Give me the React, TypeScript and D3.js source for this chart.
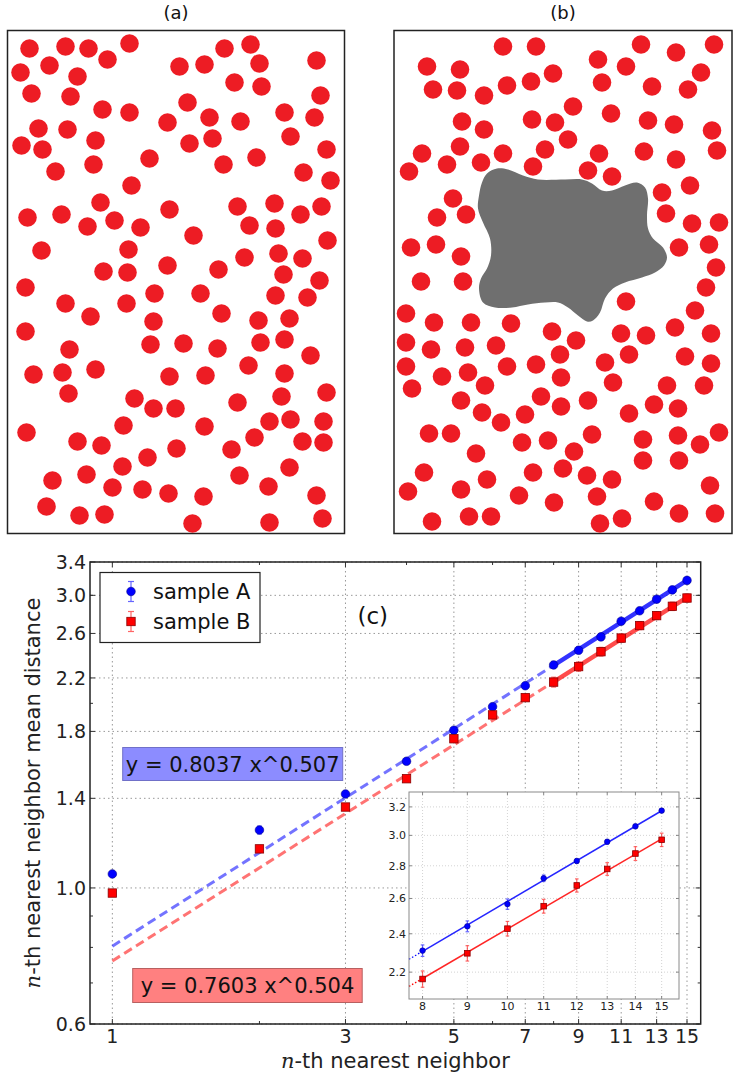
import React from 'react';
import * as d3 from 'd3';

// ---------- panel (a) / (b) particle positions (panel units, origin top-left of box) ----------
const panelACircles: [number, number][] = [
  [22,18],[58,16],[81,18],[122,13],[100,29],[42,35],[13,42],[70,46],[24,63],[63,66],[95,79],[122,82],
  [172,36],[197,34],[217,18],[243,14],[252,33],[227,52],[254,56],[309,30],[313,65],[180,72],[202,87],
  [160,92],[233,91],[277,82],[307,87],[31,98],[60,99],[14,115],[35,119],[88,110],[182,113],[205,108],
  [283,106],[319,119],[142,128],[86,134],[48,141],[216,134],[249,127],[296,142],[323,150],[124,155],
  [93,172],[20,187],[54,184],[80,196],[107,190],[133,197],[162,179],[230,176],[267,173],[293,184],
  [314,176],[242,195],[268,198],[186,205],[320,210],[34,220],[121,219],[237,227],[271,223],[295,228],
  [96,241],[120,242],[160,235],[211,239],[276,244],[312,250],
  [18,257],[58,273],[83,286],[119,273],[147,263],[193,263],[214,283],[268,265],[300,267],[251,290],
  [282,288],[18,301],[146,291],[62,319],[143,314],[176,313],[210,318],[253,312],[277,309],[303,325],
  [26,344],[55,342],[88,339],[162,346],[198,345],[241,335],[277,343],[61,363],[127,368],[146,378],
  [168,378],[230,372],[274,366],[319,362],[19,402],[116,395],[197,396],[262,391],[283,389],[316,391],
  [70,411],[94,415],[169,418],[224,419],[247,407],[295,411],[316,412],[140,427],[115,436],[79,444],
  [45,450],[232,445],[282,437],[105,457],[135,459],[161,463],[196,466],[261,456],[309,465],[39,476],
  [72,485],[97,484],[185,493],[262,492],[315,488],
];

const panelBCircles: [number, number][] = [
  [109,16],[142,16],[247,14],[282,22],[320,14],[33,36],[66,39],[204,29],[232,36],[307,42],[39,59],
  [63,60],[90,65],[113,55],[137,51],[159,43],[208,52],[258,56],[294,59],[179,76],[217,83],[68,91],
  [90,99],[138,89],[161,92],[254,90],[280,94],[318,100],[28,123],[66,116],[174,109],[151,119],
  [109,123],[205,123],[250,121],[323,120],[15,141],[53,134],[87,132],[139,136],[194,140],[218,146],
  [282,129],[296,155],[268,162],[59,168],[43,187],[72,184],[272,183],[298,193],[325,192],[17,217],
  [42,214],[67,226],[285,217],[315,214],[322,237],
  [27,251],[69,251],[312,257],[232,271],[301,280],[12,283],[40,292],[77,292],[117,293],[158,301],
  [182,310],[227,303],[252,305],[281,297],[317,303],[12,312],[37,319],[71,317],[102,315],[166,324],
  [235,324],[211,332],[291,326],[317,333],[12,336],[48,346],[74,342],[113,336],[142,334],[167,347],
  [219,352],[273,355],[310,355],[18,358],[91,355],[67,370],[147,366],[167,376],[194,370],[260,374],
  [284,378],[88,382],[131,384],[107,392],[235,383],[35,403],[57,403],[128,412],[154,410],[198,404],
  [249,409],[284,405],[325,402],[306,414],[82,423],[180,421],[249,430],[285,430],[30,442],[139,442],
  [169,438],[193,445],[218,449],[93,449],[14,461],[67,459],[125,465],[203,466],[316,455],[160,472],
  [260,471],[38,491],[75,486],[97,486],[206,493],[228,488],[285,483],[321,483],
];

const obstacleOutline: [number, number][] = [
  [93,143],[103,138],[114,139],[129,145],[144,149],[171,149],[188,149],[198,153],[208,160],[218,160],
  [231,155],[243,152],[251,157],[254,168],[253,185],[254,198],[259,208],[269,217],[273,227],[270,235],
  [261,242],[248,247],[231,252],[219,258],[211,268],[206,282],[199,290],[193,291],[184,285],[174,277],
  [164,272],[151,272],[134,274],[118,277],[101,277],[89,272],[85,258],[87,248],[93,238],[97,225],
  [96,208],[89,192],[84,178],[85,165],[88,152],
];

// ---------- panel (c) data ----------
const neighborN = [1, 2, 3, 4, 5, 6, 7, 8, 9, 10, 11, 12, 13, 14, 15];
const sampleA = [1.054, 1.243, 1.423, 1.609, 1.808, 1.975, 2.137, 2.31, 2.441, 2.567, 2.722, 2.831, 2.957, 3.062, 3.173];
const sampleB = [0.981, 1.158, 1.355, 1.507, 1.751, 1.915, 2.043, 2.166, 2.296, 2.428, 2.555, 2.678, 2.78, 2.879, 2.97];
const errA = [0.01, 0.018, 0.015, 0.015, 0.015, 0.015, 0.015, 0.03, 0.03, 0.03, 0.02, 0.015, 0.015, 0.015, 0.01];
const errB = [0.01, 0.015, 0.015, 0.015, 0.015, 0.015, 0.015, 0.04, 0.04, 0.04, 0.04, 0.04, 0.04, 0.045, 0.045];
const fitA = { a: 0.8037, b: 0.507 };
const fitB = { a: 0.7603, b: 0.504 };
const fitStartN = 1;
const fitSplitN = 8;
const fitEndN = 15;

const mainYTicks = [0.6, 1.0, 1.4, 1.8, 2.2, 2.6, 3.0, 3.4];
const mainYMinor = [0.7, 0.8, 0.9, 2, 3];
const mainXTicks = [1, 3, 5, 7, 9, 11, 13, 15];
const mainXMinor = [2, 4, 6, 8];
const insetXTicks = [8, 9, 10, 11, 12, 13, 14, 15];
const insetYTicks = [2.2, 2.4, 2.6, 2.8, 3.0, 3.2];

const FONT = '"DejaVu Sans", sans-serif';
const RED = '#ed1c24';

const fitVal = (f: { a: number; b: number }, n: number) => f.a * Math.pow(n, f.b);

function Panel({ circles, left, top, w, h, label, blob }: any) {
  const sx = d3.scaleLinear().domain([0, w]).range([left, left + w]);
  const sy = d3.scaleLinear().domain([0, h]).range([top, top + h]);
  const line = d3.line<[number, number]>().x(d => sx(d[0])).y(d => sy(d[1])).curve(d3.curveCatmullRomClosed.alpha(0.5));
  return (
    <g>
      <text x={left + w / 2} y={19} textAnchor="middle" fontFamily={FONT} fontSize={18} fill="#111">{label}</text>
      <rect x={left} y={top} width={w} height={h} fill="white" stroke="#222" strokeWidth={1.5} />
      {blob && <path d={line(blob) || ''} fill="#6f6f6f" />}
      {circles.map((c: [number, number], i: number) => (
        <circle key={i} cx={sx(c[0])} cy={sy(c[1])} r={9.3} fill={RED} />
      ))}
    </g>
  );
}

export default function App() {
  // main axes
  const X0 = 90, X1 = 700.7, Y0 = 562, Y1 = 1024;
  const x = d3.scaleLog().domain([0.9, 16]).range([X0, X1]);
  const y = d3.scaleLog().domain([0.6, 3.4]).range([Y1, Y0]);
  // inset axes
  const IX0 = 409, IX1 = 679, IY0 = 792, IY1 = 999;
  const ix = d3.scaleLog().domain([7.72, 15.7]).range([IX0, IX1]);
  const iy = d3.scaleLog().domain([2.07, 3.31]).range([IY1, IY0]);

  const series = [
    { vals: sampleA, err: errA, fit: fitA, color: '#0000ff', dash: 'rgba(40,40,255,0.65)', solid: 'rgba(0,0,255,0.8)', edge: '#00008b', marker: 'circle' },
    { vals: sampleB, err: errB, fit: fitB, color: '#ff0000', dash: 'rgba(255,40,40,0.65)', solid: 'rgba(255,0,0,0.7)', edge: '#8b0000', marker: 'square' },
  ];

  const marker = (kind: string, cx: number, cy: number, size: number, fill: string, edge: string, key: any) =>
    kind === 'circle'
      ? <circle key={key} cx={cx} cy={cy} r={size / 2} fill={fill} stroke={edge} strokeWidth={0.6} />
      : <rect key={key} x={cx - size / 2} y={cy - size / 2} width={size} height={size} fill={fill} stroke={edge} strokeWidth={0.8} />;

  const errBar = (cx: number, ylo: number, yhi: number, color: string, cap: number, key: any) => (
    <g key={key} stroke={color} strokeWidth={1.2} opacity={0.6}>
      <line x1={cx} x2={cx} y1={ylo} y2={yhi} />
      <line x1={cx - cap} x2={cx + cap} y1={ylo} y2={ylo} />
      <line x1={cx - cap} x2={cx + cap} y1={yhi} y2={yhi} />
    </g>
  );

  return (
    <svg width={738} height={1075} style={{ position: 'absolute', left: 0, top: 0, background: 'white' }}>
      <Panel circles={panelACircles} left={7.5} top={30.5} w={337} h={503} label="(a)" />
      <Panel circles={panelBCircles} left={394} top={30.5} w={338} h={503} label="(b)" blob={obstacleOutline} />

      {/* main plot (c) */}
      <rect x={X0} y={Y0} width={X1 - X0} height={Y1 - Y0} fill="white" />
      <g stroke="#999" strokeWidth={1} strokeDasharray="1.5,3">
        {mainXTicks.map(t => <line key={'gx' + t} x1={x(t)} x2={x(t)} y1={Y0} y2={Y1} />)}
        {mainYTicks.map(t => <line key={'gy' + t} x1={X0} x2={X1} y1={y(t)} y2={y(t)} />)}
      </g>
      {/* ticks */}
      <g stroke="#333" strokeWidth={1}>
        {mainXTicks.map(t => <g key={'tx' + t}><line x1={x(t)} x2={x(t)} y1={Y1} y2={Y1 - 5} /><line x1={x(t)} x2={x(t)} y1={Y0} y2={Y0 + 5} /></g>)}
        {mainXMinor.map(t => <g key={'mx' + t}><line x1={x(t)} x2={x(t)} y1={Y1} y2={Y1 - 3} /><line x1={x(t)} x2={x(t)} y1={Y0} y2={Y0 + 3} /></g>)}
        {mainYTicks.map(t => <g key={'ty' + t}><line x1={X0} x2={X0 + 5} y1={y(t)} y2={y(t)} /><line x1={X1} x2={X1 - 5} y1={y(t)} y2={y(t)} /></g>)}
        {mainYMinor.map(t => <g key={'my' + t}><line x1={X0} x2={X0 + 3} y1={y(t)} y2={y(t)} /><line x1={X1} x2={X1 - 3} y1={y(t)} y2={y(t)} /></g>)}
      </g>
      {/* fit lines */}
      {series.map((s, i) => (
        <g key={'fit' + i}>
          <line x1={x(fitStartN)} y1={y(fitVal(s.fit, fitStartN))} x2={x(fitSplitN)} y2={y(fitVal(s.fit, fitSplitN))}
            stroke={s.dash} strokeWidth={3} strokeDasharray="9,5" />
          <line x1={x(fitSplitN)} y1={y(fitVal(s.fit, fitSplitN))} x2={x(fitEndN)} y2={y(fitVal(s.fit, fitEndN))}
            stroke={s.solid} strokeWidth={4.5} strokeLinecap="round" />
        </g>
      ))}
      {/* points */}
      {series.map((s, i) => (
        <g key={'pts' + i}>
          {neighborN.map((n, j) => errBar(x(n), y(s.vals[j] - s.err[j]), y(s.vals[j] + s.err[j]), s.color, 2.5, 'e' + j))}
          {neighborN.map((n, j) => marker(s.marker, x(n), y(s.vals[j]), s.marker === 'circle' ? 8.6 : 8.4, s.color, s.edge, 'm' + j))}
        </g>
      ))}
      <rect x={X0} y={Y0} width={X1 - X0} height={Y1 - Y0} fill="none" stroke="#222" strokeWidth={1.5} />
      {/* tick labels */}
      <g fontFamily={FONT} fontSize={19} fill="#222">
        {mainYTicks.map(t => <text key={'ly' + t} x={X0 - 4} y={y(t) + 7} textAnchor="end">{t.toFixed(1)}</text>)}
        {mainXTicks.map(t => <text key={'lx' + t} x={x(t)} y={Y1 + 19} textAnchor="middle">{t}</text>)}
      </g>
      {/* axis labels */}
      <text x={(X0 + X1) / 2 + 0} y={1068} textAnchor="middle" fontFamily={FONT} fontSize={21} fill="#222">
        <tspan fontFamily='"DejaVu Serif", serif' fontStyle="italic">n</tspan>-th nearest neighbor
      </text>
      <text transform={`translate(40,${(Y0 + Y1) / 2}) rotate(-90)`} textAnchor="middle" fontFamily={FONT} fontSize={21} fill="#222">
        <tspan fontFamily='"DejaVu Serif", serif' fontStyle="italic">n</tspan>-th nearest neighbor mean distance
      </text>
      {/* (c) label */}
      <text x={X0 + 0.463 * (X1 - X0)} y={Y0 + 0.134 * (Y1 - Y0)} textAnchor="middle" fontFamily={FONT} fontSize={23} fill="#111">(c)</text>

      {/* legend */}
      <g>
        <rect x={100} y={572.5} width={160} height={70} fill="white" stroke="#222" strokeWidth={1.2} />
        {errBar(131, 581.5, 601.5, '#0000ff', 3, 'le1')}
        {marker('circle', 131, 591.5, 8.6, '#0000ff', '#00008b', 'lm1')}
        {errBar(131, 611.5, 631.5, '#ff0000', 3, 'le2')}
        {marker('square', 131, 621.5, 8.4, '#ff0000', '#8b0000', 'lm2')}
        <text x={153} y={599} fontFamily={FONT} fontSize={21} fill="#111">sample A</text>
        <text x={153} y={629} fontFamily={FONT} fontSize={21} fill="#111">sample B</text>
      </g>

      {/* fit text boxes */}
      <g fontFamily={FONT} fontSize={21} fill="#111">
        <rect x={122.7} y={747.5} width={220} height={33} fill="#8c8cff" stroke="#7070c8" strokeWidth={1} />
        <text x={232.7} y={771.5} textAnchor="middle">y = {fitA.a.toFixed(4)} x^{fitA.b.toFixed(3)}</text>
        <rect x={132.7} y={968.5} width={229.5} height={34} fill="#ff8080" stroke="#b86060" strokeWidth={1} />
        <text x={247.5} y={993} textAnchor="middle">y = {fitB.a.toFixed(4)} x^{fitB.b.toFixed(3)}</text>
      </g>

      {/* inset */}
      <g>
        <rect x={IX0} y={IY0} width={IX1 - IX0} height={IY1 - IY0} fill="white" />
        <g stroke="#c8c8c8" strokeWidth={0.8} strokeDasharray="1,2">
          {insetXTicks.map(t => <line key={'igx' + t} x1={ix(t)} x2={ix(t)} y1={IY0} y2={IY1} />)}
          {insetYTicks.map(t => <line key={'igy' + t} x1={IX0} x2={IX1} y1={iy(t)} y2={iy(t)} />)}
        </g>
        <g stroke="#666" strokeWidth={0.8}>
          {insetXTicks.map(t => <g key={'itx' + t}><line x1={ix(t)} x2={ix(t)} y1={IY1} y2={IY1 - 3} /><line x1={ix(t)} x2={ix(t)} y1={IY0} y2={IY0 + 3} /></g>)}
          {insetYTicks.map(t => <g key={'ity' + t}><line x1={IX0} x2={IX0 + 3} y1={iy(t)} y2={iy(t)} /><line x1={IX1} x2={IX1 - 3} y1={iy(t)} y2={iy(t)} /></g>)}
        </g>
        {series.map((s, i) => (
          <g key={'ifit' + i}>
            <line x1={ix(7.72)} y1={iy(fitVal(s.fit, 7.72))} x2={ix(fitSplitN)} y2={iy(fitVal(s.fit, fitSplitN))}
              stroke={s.color} strokeWidth={1.3} strokeDasharray="1.5,2" />
            <line x1={ix(fitSplitN)} y1={iy(fitVal(s.fit, fitSplitN))} x2={ix(fitEndN)} y2={iy(fitVal(s.fit, fitEndN))}
              stroke={s.color} strokeWidth={1.5} opacity={0.85} />
          </g>
        ))}
        {series.map((s, i) => (
          <g key={'ipts' + i}>
            {neighborN.map((n, j) => n < fitSplitN ? null : errBar(ix(n), iy(s.vals[j] - s.err[j]), iy(s.vals[j] + s.err[j]), s.color, 1.8, 'ie' + j))}
            {neighborN.map((n, j) => n < fitSplitN ? null : marker(s.marker, ix(n), iy(s.vals[j]), s.marker === 'circle' ? 5.6 : 5.6, s.color, s.edge, 'im' + j))}
          </g>
        ))}
        <rect x={IX0} y={IY0} width={IX1 - IX0} height={IY1 - IY0} fill="none" stroke="#8a8a8a" strokeWidth={1} />
        <g fontFamily={FONT} fontSize={11} fill="#222">
          {insetYTicks.map(t => <text key={'ily' + t} x={IX0 - 3} y={iy(t) + 4} textAnchor="end">{t.toFixed(1)}</text>)}
          {insetXTicks.map(t => <text key={'ilx' + t} x={ix(t)} y={IY1 + 11} textAnchor="middle">{t}</text>)}
        </g>
      </g>
    </svg>
  );
}
